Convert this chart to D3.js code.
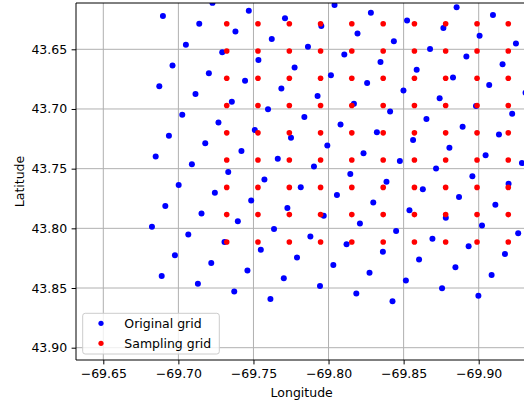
<!DOCTYPE html>
<html>
<head>
<meta charset="utf-8">
<script src="https://cdn.jsdelivr.net/npm/d3@7"></script>
<style>
  html, body { margin: 0; padding: 0; background: #fff; }
  svg { display: block; font-family: "DejaVu Sans", sans-serif; }
</style>
</head>
<body>
<div id="chart"></div>
<script>
// Original (rotated) grid points
const origLon = [
  -69.8853, -69.9095,
  -69.8040, -69.8282, -69.8523, -69.8765, -69.9006, -69.9248,
  -69.7227, -69.7469, -69.7710, -69.7952, -69.8193, -69.8435, -69.8676, -69.8918, -69.9159,
  -69.6897, -69.7139, -69.7380, -69.7622, -69.7863, -69.8105, -69.8346, -69.8587, -69.8829, -69.9070, -69.9312,
  -69.7050, -69.7292, -69.7533, -69.7774, -69.8016, -69.8257, -69.8499, -69.8740, -69.8982, -69.9223,
  -69.6961, -69.7203, -69.7444, -69.7686, -69.7927, -69.8169, -69.8410, -69.8652, -69.8893, -69.9135,
  -69.6873, -69.7114, -69.7356, -69.7597, -69.7839, -69.8080, -69.8322, -69.8563, -69.8805, -69.9046, -69.9288,
  -69.7026, -69.7267, -69.7509, -69.7750, -69.7992, -69.8233, -69.8475, -69.8716, -69.8958, -69.9199,
  -69.6937, -69.7179, -69.7420, -69.7662, -69.7903, -69.8145, -69.8386, -69.8628, -69.8869, -69.9111,
  -69.6849, -69.7090, -69.7332, -69.7573, -69.7815, -69.8056, -69.8298, -69.8539, -69.8781, -69.9022, -69.9263,
  -69.7002, -69.7243, -69.7485, -69.7726, -69.7968, -69.8209, -69.8450, -69.8692, -69.8933, -69.9175,
  -69.6913, -69.7154, -69.7396, -69.7637, -69.7879, -69.8120, -69.8362, -69.8603, -69.8845, -69.9086,
  -69.6824, -69.7066, -69.7307, -69.7549, -69.7790, -69.8032, -69.8273, -69.8515, -69.8756, -69.8998,
  -69.6977, -69.7219, -69.7460, -69.7702, -69.7943, -69.8185, -69.8426,
  -69.6889, -69.7130, -69.7372, -69.7613
];
const origLat = [
  43.6147, 43.6212,
  43.6129, 43.6194, 43.6258, 43.6322, 43.6386, 43.6451,
  43.6111, 43.6176, 43.6240, 43.6304, 43.6368, 43.6433, 43.6497, 43.6561, 43.6625,
  43.6222, 43.6286, 43.6350, 43.6414, 43.6479, 43.6543, 43.6607, 43.6672, 43.6736, 43.6800, 43.6864,
  43.6461, 43.6525, 43.6589, 43.6653, 43.6718, 43.6782, 43.6846, 43.6910, 43.6975, 43.7039,
  43.6635, 43.6700, 43.6764, 43.6828, 43.6892, 43.6957, 43.7021, 43.7085, 43.7149, 43.7214,
  43.6810, 43.6874, 43.6939, 43.7003, 43.7067, 43.7131, 43.7196, 43.7260, 43.7324, 43.7388, 43.7453,
  43.7049, 43.7113, 43.7177, 43.7242, 43.7306, 43.7370, 43.7435, 43.7499, 43.7563, 43.7627,
  43.7224, 43.7288, 43.7352, 43.7416, 43.7481, 43.7545, 43.7609, 43.7673, 43.7738, 43.7802,
  43.7398, 43.7463, 43.7527, 43.7591, 43.7655, 43.7720, 43.7784, 43.7848, 43.7912, 43.7977, 43.8041,
  43.7637, 43.7702, 43.7766, 43.7830, 43.7894, 43.7959, 43.8023, 43.8087, 43.8151, 43.8216,
  43.7812, 43.7876, 43.7940, 43.8005, 43.8069, 43.8133, 43.8197, 43.8262, 43.8326, 43.8390,
  43.7987, 43.8051, 43.8115, 43.8179, 43.8244, 43.8308, 43.8372, 43.8436, 43.8501, 43.8565,
  43.8226, 43.8290, 43.8354, 43.8418, 43.8483, 43.8547, 43.8611,
  43.8400, 43.8464, 43.8529, 43.8593
];
// Sampling (regular) grid
const sampLons = [-69.7322, -69.7530, -69.7739, -69.7947, -69.8155, -69.8364, -69.8572, -69.8780, -69.8989, -69.9197];
const sampLats = [43.6286, 43.6514, 43.6743, 43.6971, 43.7200, 43.7428, 43.7657, 43.7885, 43.8114];

const xTicks = [-69.65, -69.70, -69.75, -69.80, -69.85, -69.90];
const yTicks = [43.65, 43.70, 43.75, 43.80, 43.85, 43.90];
const legendLabels = ["Original grid", "Sampling grid"];
const xLabel = "Longitude";
const yLabel = "Latitude";

const W = 524, H = 404;
const L = 76, R = 527.4, T = 3, B = 360;
const FS = 12.5;

const x = d3.scaleLinear().domain([-69.63182, -69.93244]).range([L, R]);
const y = d3.scaleLinear().domain([43.61121, 43.91031]).range([T, B]);

const svg = d3.select("#chart").append("svg").attr("width", W).attr("height", H);

svg.append("defs").append("clipPath").attr("id", "clip")
  .append("rect").attr("x", L).attr("y", T).attr("width", R - L).attr("height", B - T);

// grid
const grid = svg.append("g");
grid.selectAll("line.gx").data(xTicks).join("line")
  .attr("x1", d => x(d)).attr("x2", d => x(d)).attr("y1", T).attr("y2", B)
  .attr("stroke", "#b0b0b0").attr("stroke-width", 1);
grid.selectAll("line.gy").data(yTicks).join("line").attr("class", "gy")
  .attr("x1", L).attr("x2", R).attr("y1", d => y(d)).attr("y2", d => y(d))
  .attr("stroke", "#b0b0b0").attr("stroke-width", 1);

// points
const pts = svg.append("g").attr("clip-path", "url(#clip)");
const orig = origLon.map((lon, i) => ({lon, lat: origLat[i]}));
pts.selectAll("circle.o").data(orig).join("circle").attr("class", "o")
  .attr("cx", d => x(d.lon)).attr("cy", d => y(d.lat)).attr("r", 3)
  .attr("fill", "#0000ff");
const samp = [];
sampLats.forEach(lat => sampLons.forEach(lon => samp.push({lon, lat})));
pts.selectAll("circle.s").data(samp).join("circle").attr("class", "s")
  .attr("cx", d => x(d.lon)).attr("cy", d => y(d.lat)).attr("r", 2.8)
  .attr("fill", "#ff0000");

// axes
const fmt = d => d3.format(".2f")(d).replace("-", "\u2212");
const xAxis = d3.axisBottom(x).tickValues(xTicks).tickFormat(fmt).tickSize(4.4).tickPadding(4.4);
const yAxis = d3.axisLeft(y).tickValues(yTicks).tickFormat(fmt).tickSize(4.4).tickPadding(4.4);
const gx = svg.append("g").attr("transform", `translate(0,${B})`).call(xAxis);
const gy = svg.append("g").attr("transform", `translate(${L},0)`).call(yAxis);
[gx, gy].forEach(g => {
  g.select(".domain").remove();
  g.selectAll("line").attr("stroke", "#000").attr("stroke-width", 1);
  g.selectAll("text").attr("font-size", FS).attr("font-family", "DejaVu Sans").attr("fill", "#000");
});

// spines
svg.append("line").attr("x1", L).attr("x2", L).attr("y1", T).attr("y2", B).attr("stroke", "#000").attr("stroke-width", 1);
svg.append("line").attr("x1", L).attr("x2", R).attr("y1", B).attr("y2", B).attr("stroke", "#000").attr("stroke-width", 1);
svg.append("line").attr("x1", L).attr("x2", R).attr("y1", T).attr("y2", T).attr("stroke", "#000").attr("stroke-width", 1);
svg.append("line").attr("x1", R).attr("x2", R).attr("y1", T).attr("y2", B).attr("stroke", "#000").attr("stroke-width", 1);

// axis labels
svg.append("text").attr("x", (L + R) / 2).attr("y", 396.5).attr("text-anchor", "middle")
  .attr("font-size", FS).text(xLabel);
svg.append("text").attr("transform", `translate(24,${(T + B) / 2}) rotate(-90)`).attr("text-anchor", "middle")
  .attr("font-size", FS).text(yLabel);

// legend
const lg = svg.append("g");
lg.append("rect").attr("x", 82.7).attr("y", 313.3).attr("width", 136.6).attr("height", 40.7).attr("rx", 2.5)
  .attr("fill", "#fff").attr("fill-opacity", 0.8).attr("stroke", "#cccccc").attr("stroke-width", 1);
const lcolors = ["#0000ff", "#ff0000"];
legendLabels.forEach((t, i) => {
  const cy = 323.3 + i * 20;
  lg.append("circle").attr("cx", 101).attr("cy", cy).attr("r", 2.6).attr("fill", lcolors[i]);
  lg.append("text").attr("x", 124.3).attr("y", cy + 4.6).attr("font-size", FS).text(t);
});
</script>
</body>
</html>
